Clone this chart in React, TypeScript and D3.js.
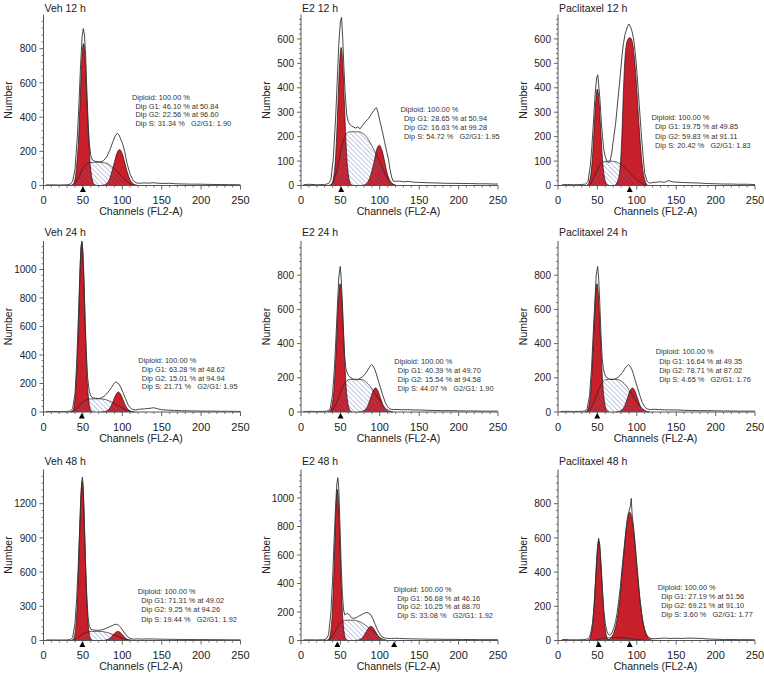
import React from 'react';
import * as d3 from 'd3';

type Pt = [number, number];

// ---------- data ----------
const panelTitles = [
  'Veh 12 h', 'E2 12 h', 'Paclitaxel 12 h',
  'Veh 24 h', 'E2 24 h', 'Paclitaxel 24 h',
  'Veh 48 h', 'E2 48 h', 'Paclitaxel 48 h',
];
const yMax = [1000, 700, 700, 1200, 1000, 1000, 1500, 1200, 1000];
const yStep = [200, 100, 100, 200, 200, 200, 300, 200, 200];
const xTicks = [0, 50, 100, 150, 200, 250];

const g1Pct = ['46.10', '28.65', '19.75', '63.28', '40.39', '16.64', '71.31', '56.68', '27.19'];
const g1At = ['50.84', '50.94', '49.85', '48.62', '49.70', '49.35', '49.02', '46.16', '51.56'];
const g2Pct = ['22.56', '16.63', '59.83', '15.01', '15.54', '78.71', '9.25', '10.25', '69.21'];
const g2At = ['96.60', '99.28', '91.11', '94.94', '94.58', '87.02', '94.26', '88.70', '91.10'];
const sPct = ['31.34', '54.72', '20.42', '21.71', '44.07', '4.65', '19.44', '33.08', '3.60'];
const g2g1 = ['1.90', '1.95', '1.83', '1.95', '1.90', '1.76', '1.92', '1.92', '1.77'];

const peakMarkers: number[][] = [[50], [51], [91], [48.6], [50.2], [49.8], [49.3], [46.2, 118.2], [51.6, 91]];

const g1Series: Pt[][] = [
  [[34,0],[38,9],[42,110],[44.5,270],[46.5,500],[48.5,730],[51,830],[53,730],[55,500],[57.5,270],[59.5,110],[64,9],[68,0]],
  [[35,0],[39,6],[43,76],[45,184],[47,343],[49,498],[51,565],[53,498],[55,343],[57,184],[59,76],[63,6],[66,0]],
  [[36,0],[38,4],[42,53],[44,128],[46,240],[48,348],[50,395],[52,348],[54,240],[56,128],[58,53],[62,4],[65,0]],
  [[34,0],[37.5,13],[41,160],[43,387],[45,722],[46.7,1050],[48.6,1190],[50.5,1050],[52.3,722],[54.2,387],[56.1,160],[60,13],[63,0]],
  [[34,0],[37,8],[41.3,101],[43.4,244],[45.5,455],[47.6,662],[49.7,750],[51.8,662],[53.9,455],[56,244],[58.1,101],[62.3,8],[65,0]],
  [[34,0],[37,8],[41.1,101],[43.2,244],[45.3,455],[47.4,662],[49.5,750],[51.6,662],[53.7,455],[55.8,244],[57.9,101],[62.1,8],[65,0]],
  [[35,0],[38.2,15],[41.8,189],[43.6,455],[45.4,850],[47.2,1235],[49,1400],[50.8,1235],[52.6,850],[54.4,455],[56.2,189],[59.8,15],[63,0]],
  [[32,0],[35.7,12],[39.2,143],[40.9,344],[42.7,643],[44.4,935],[46.2,1060],[47.9,935],[49.7,643],[51.4,344],[53.2,143],[56.7,12],[60,0]],
  [[36,0],[39.6,6],[43.6,79],[45.6,190],[47.6,354],[49.6,514],[51.6,583],[53.6,514],[55.6,354],[57.6,190],[59.6,79],[63.6,6],[67,0]],
];

const g2Series: Pt[][] = [
  [[72,0],[76,2],[83,28],[86,68],[89.5,127],[93,185],[96.5,210],[100,185],[103.5,127],[107,68],[110.5,28],[117.5,2],[121,0]],
  [[76,0],[80,2],[86,22],[89.5,54],[93,100],[96,146],[99.5,165],[102.5,146],[106,100],[109,54],[112.5,22],[119,2],[122,0]],
  [[72,0],[76,20],[79,80],[81,200],[83,380],[85,520],[87,580],[89,600],[91,605],[93,600],[95,575],[97,520],[99,440],[101,340],[103,240],[105,150],[107,80],[110,25],[114,0]],
  [[73,0],[77,2],[83,19],[86,45],[89,85],[92,123],[95,140],[98,123],[101,85],[104,45],[107,19],[113,2],[116,0]],
  [[73,0],[76.6,2],[82.6,19],[85.6,46],[88.6,86],[91.6,124],[94.6,141],[97.6,124],[100.6,86],[103.6,46],[106.6,19],[112.6,2],[116,0]],
  [[73,0],[76.5,2],[82.5,19],[85.5,46],[88.5,86],[91.5,124],[94.5,141],[97.5,124],[100.5,86],[103.5,46],[106.5,19],[112.5,2],[116,0]],
  [[73,0],[76.3,1],[82.3,11],[85.3,26],[88.3,49],[91.3,71],[94.3,80],[97.3,71],[100.3,49],[103.3,26],[106.3,11],[112.3,1],[116,0]],
  [[67,0],[70.7,1],[76.7,14],[79.7,33],[82.7,61],[85.7,88],[88.7,100],[91.7,88],[94.7,61],[97.7,33],[100.7,14],[106.7,1],[110,0]],
  [[61,0],[65.6,8],[74.1,101],[78.4,244],[82.6,455],[86.9,662],[91.1,750],[95.4,662],[99.6,455],[103.9,244],[108.1,101],[116.6,8],[121,0]],
];

const sSeries: Pt[][] = [
  [[36,0],[40,12],[45,50],[50,100],[55,127],[60,135],[70,136],[80,130],[86,112],[92,88],[97,62],[102,38],[108,15],[114,4],[118,0]],
  [[37,0],[41,15],[45,55],[49,115],[53,175],[57,210],[62,220],[72,220],[80,210],[86,185],[92,150],[97,118],[102,80],[107,45],[112,18],[117,5],[121,0]],
  [[38,0],[42,10],[46,35],[50,65],[54,88],[58,97],[66,100],[74,96],[80,86],[86,70],[92,50],[98,30],[104,14],[110,4],[114,0]],
  [[35,0],[39,8],[43,28],[47,55],[51,75],[55,87],[60,92],[70,93],[78,88],[84,76],[90,58],[95,42],[100,27],[105,14],[110,5],[115,0]],
  [[36,0],[40,12],[44,40],[48,85],[52,135],[56,172],[60,188],[68,192],[76,190],[82,178],[88,150],[93,115],[98,80],[103,45],[108,20],[113,5],[117,0]],
  [[36,0],[40,12],[44,40],[48,85],[52,135],[56,172],[60,188],[68,192],[75,190],[81,178],[87,150],[92,115],[97,80],[102,45],[107,20],[112,5],[116,0]],
  [[36,0],[40,8],[44,26],[48,48],[52,65],[56,75],[60,80],[70,80],[77,76],[83,66],[89,50],[94,36],[99,22],[104,11],[109,4],[113,0]],
  [[33,0],[37,12],[41,40],[45,80],[49,115],[53,135],[57,142],[66,143],[72,137],[78,122],[84,98],[90,70],[95,45],[100,22],[105,8],[109,0]],
  [[44,0],[50,5],[56,11],[62,15],[70,17],[80,16],[88,13],[95,9],[102,5],[108,2],[112,0]],
];

const histSeries: Pt[][] = [
  [[3,3],[10,4],[20,3],[30,4],[34,8],[37,25],[40,95],[43,290],[45,480],[47,700],[49,870],[50.5,918],[52,880],[53.5,760],[55,560],[56.5,380],[58,250],[60,175],[62,150],[65,142],[68,140],[72,138],[76,145],[80,165],[84,205],[88,255],[91,290],[93.5,306],[96,295],[98,270],[100,250],[103,200],[106,130],[110,65],[114,28],[118,15],[122,13],[127,15],[133,14],[140,16],[146,13],[152,12],[160,13],[168,10],[176,9],[185,8],[195,8],[205,7],[215,6],[225,6],[235,5],[245,5],[250,4]],
  [[3,3],[10,5],[20,3],[30,4],[35,8],[38,25],[41,110],[44,280],[46,430],[48,580],[50,672],[51.5,688],[53,600],[54.5,480],[56,380],[58,290],[60,262],[62,250],[64,245],[66,240],[69,235],[72,240],[75,232],[78,245],[82,262],[85.5,273],[89,290],[92,305],[94.5,316],[96,318],[98,295],[100,265],[103,225],[106,180],[109,135],[111,108],[113,65],[115,35],[117,18],[120,17],[125,18],[130,15],[136,17],[142,14],[148,13],[155,12],[165,11],[175,10],[185,9],[195,9],[205,8],[215,8],[225,7],[235,7],[245,6],[250,6]],
  [[5,3],[12,4],[20,3],[30,4],[35,6],[38,15],[41,80],[43,160],[45,260],[47,370],[49,440],[50.5,453],[52,400],[53.5,340],[55,260],[56.5,200],[58,150],[60,118],[62,100],[64,92],[66,100],[68,130],[70,180],[73,250],[76,350],[79,450],[81,523],[83,580],[85,617],[88,650],[90,661],[92,650],[94,630],[96,600],[98,545],[100,470],[102,380],[104,290],[106,200],[108,120],[110,50],[113,18],[116,10],[120,12],[125,14],[130,15],[135,13],[140,20],[145,15],[150,14],[160,12],[170,11],[180,10],[190,8],[200,7],[210,6],[220,6],[230,5],[240,5],[250,4]],
  [[3,3],[10,4],[20,3],[30,4],[34,6],[37,25],[40,130],[42,330],[44,620],[46,950],[47.5,1150],[48.8,1205],[50,1120],[51.5,900],[53,620],[54.5,400],[56,240],[58,150],[60,112],[63,98],[66,96],[70,94],[74,100],[78,115],[82,140],[86,170],[89,195],[91.5,212],[93.5,205],[95.5,198],[98,175],[101,135],[104,95],[107,55],[110,30],[113,18],[117,14],[122,20],[128,22],[134,25],[140,30],[145,22],[150,16],[158,13],[166,11],[175,9],[185,8],[195,7],[205,6],[215,6],[225,5],[235,5],[245,4],[250,4]],
  [[3,3],[10,4],[20,3],[30,4],[34,6],[37,20],[40,100],[42.6,270],[44.5,450],[46,600],[48,790],[49.8,851],[51,780],[52.5,640],[54,460],[55.5,320],[57,255],[58.5,230],[60,215],[63,200],[66,192],[69,188],[72,190],[75,197],[78,205],[81,220],[84,240],[87,262],[89.5,278],[91.5,270],[93.5,250],[95.5,225],[98,185],[101,140],[104,95],[107,55],[110,30],[113,17],[117,14],[122,15],[128,13],[135,14],[142,12],[150,12],[160,10],[170,9],[180,8],[190,8],[200,7],[210,6],[220,6],[230,5],[240,5],[250,5]],
  [[3,3],[10,4],[20,3],[30,4],[34,6],[37,20],[40,95],[42.6,260],[44.5,440],[46.5,620],[48.5,800],[50.3,851],[51.5,790],[53,640],[54.5,460],[56,320],[57.5,255],[59,225],[61,205],[64,195],[67,190],[70,190],[73,195],[76,203],[79,215],[82,232],[85,255],[88,272],[89.5,277],[91.5,268],[93.5,250],[95.5,225],[98,185],[101,140],[104,95],[107,55],[110,30],[113,18],[117,14],[122,16],[128,14],[135,13],[142,12],[150,12],[160,10],[170,9],[180,8],[190,8],[200,7],[210,6],[220,6],[230,5],[240,5],[250,5]],
  [[3,4],[10,5],[20,4],[30,5],[34,8],[37,25],[40,150],[42,360],[44,640],[46,1000],[47.8,1300],[49.3,1433],[50.5,1350],[52,1000],[53.5,640],[55,380],[56.5,210],[58,130],[60,100],[63,92],[67,90],[71,90],[75,95],[79,105],[83,118],[87,130],[90,140],[92.5,142],[95,135],[98,115],[101,85],[104,55],[107,32],[110,18],[114,12],[120,14],[126,12],[132,14],[140,13],[148,12],[156,11],[165,10],[175,9],[185,9],[195,8],[205,8],[215,7],[225,7],[235,6],[245,6],[250,6]],
  [[3,4],[10,5],[20,4],[28,5],[32,10],[35,40],[38,200],[40,420],[42,700],[44,950],[45.5,1100],[46.8,1142],[48,1060],[49.5,800],[51,520],[52.5,330],[54,215],[55.5,180],[57,185],[59,190],[61,182],[64,160],[67,155],[70,160],[73,170],[76,178],[79,188],[82,195],[85,195],[88,185],[91,155],[94,115],[97,75],[100,45],[103,25],[106,18],[110,15],[115,14],[120,16],[125,14],[130,13],[138,12],[146,11],[155,10],[165,9],[175,9],[185,8],[195,8],[205,7],[215,7],[225,6],[235,6],[245,6],[250,5]],
  [[5,5],[10,6],[15,4],[25,4],[32,5],[37,8],[40,20],[42,55],[44,110],[46,210],[48,370],[50,520],[51.5,599],[53,560],[54.5,450],[56,330],[58,185],[60,100],[62,55],[64,35],[65.5,30],[67,35],[69,50],[71,75],[73,110],[75,160],[77,230],[79,310],[81,410],[83,500],[85,590],[87,680],[89,740],[90.5,762],[92,790],[93,831],[94,740],[96,660],[98,560],[100,450],[102,340],[104,240],[106,165],[108,105],[110,60],[112,35],[115,18],[118,12],[122,10],[128,12],[135,14],[142,12],[150,13],[158,12],[166,14],[174,13],[182,12],[190,9],[200,7],[210,6],[220,6],[230,5],[240,5],[250,4]],
];

// ---------- layout ----------
const colX = [43.5, 301, 558];
const rowBottom = [185.5, 412, 640.5];
const titleY = [11.5, 236, 464.5];
const plotW = 197;
const plotH = 171;
// [dx from axis, baseline dy from plot top, line spacing]
const notePos = [
  [88.5, 85.5, 8.5], [99.5, 97.5, 9.1], [93.5, 105.5, 9.4],
  [94.8, 122, 8.8], [93.3, 122.7, 9], [97.7, 113.4, 9.1],
  [94.2, 124, 9.4], [92.7, 122.5, 8.6], [99.7, 120, 9.1],
];

const RED = '#c8202a';
const HATCH = '#5a6ab2';
const FONT = '"Liberation Sans", Arial, Helvetica, sans-serif';

function Panel({ i }: { i: number }) {
  const col = i % 3;
  const row = Math.floor(i / 3);
  const x0 = colX[col];
  const y0 = rowBottom[row];
  const yTop = y0 - plotH;
  const x = d3.scaleLinear().domain([0, 250]).range([x0, x0 + plotW]);
  const y = d3.scaleLinear().domain([0, yMax[i]]).range([y0, yTop]);

  const area = d3.area<Pt>().x(d => x(d[0])).y0(y0).y1(d => y(d[1])).curve(d3.curveMonotoneX);
  const outline = d3.line<Pt>().x(d => x(d[0])).y(d => y(d[1])).curve(d3.curveMonotoneX);
  const histLine = d3.line<Pt>().x(d => x(d[0])).y(d => y(Math.min(d[1], yMax[i]))).curve(d3.curveLinear);

  const step = yStep[i];
  const majors = d3.range(0, yMax[i], step);
  const minors = d3.range(0, yMax[i] + 1e-6, step / 5).filter(v => Math.abs(v / step - Math.round(v / step)) > 1e-6);
  const xMinors = d3.range(0, 251, 10).filter(v => v % 50 !== 0);

  const [ndx, ndy, nsp] = notePos[i];
  const nx = x0 + ndx;
  const ny = yTop + ndy;
  const noteLines = [
    `Dip G1: ${g1Pct[i]} % at ${g1At[i]}`,
    `Dip G2: ${g2Pct[i]} % at ${g2At[i]}`,
    `Dip S: ${sPct[i]} %   G2/G1: ${g2g1[i]}`,
  ];

  return (
    <g>
      <text x={x0 + 1} y={titleY[row]} fontSize={10.5} fill="#222" fontFamily={FONT}>{panelTitles[i]}</text>

      {/* components */}
      <path d={area(g1Series[i]) || ''} fill={RED} />
      <path d={area(g2Series[i]) || ''} fill={RED} />
      <path d={area(sSeries[i]) || ''} fill="url(#hatch)" />
      <path d={outline(g1Series[i]) || ''} fill="none" stroke="#2a0a0a" strokeWidth={0.7} />
      <path d={outline(g2Series[i]) || ''} fill="none" stroke="#2a0a0a" strokeWidth={0.7} />
      <path d={outline(sSeries[i]) || ''} fill="none" stroke="#222" strokeWidth={0.7} />
      <path d={histLine(histSeries[i]) || ''} fill="none" stroke="#333" strokeWidth={0.9} />

      {/* axes */}
      <line x1={x0} x2={x0} y1={yTop} y2={y0} stroke="#555" strokeWidth={1} />
      <line x1={x0} x2={x0 + plotW} y1={y0} y2={y0} stroke="#555" strokeWidth={1} />
      {minors.map(v => (
        <line key={'ym' + v} x1={x0 - 2} x2={x0} y1={y(v)} y2={y(v)} stroke="#555" strokeWidth={0.8} />
      ))}
      {majors.map(v => (
        <g key={'yM' + v}>
          <line x1={x0 - 4} x2={x0} y1={y(v)} y2={y(v)} stroke="#555" strokeWidth={0.9} />
          <text x={x0 - 7} y={y(v) + 3.6} textAnchor="end" fontSize={10} fill="#222" fontFamily={FONT}>{v}</text>
        </g>
      ))}
      {xMinors.map(v => (
        <line key={'xm' + v} x1={x(v)} x2={x(v)} y1={y0} y2={y0 + 2} stroke="#555" strokeWidth={0.8} />
      ))}
      {xTicks.map(v => (
        <g key={'xM' + v}>
          <line x1={x(v)} x2={x(v)} y1={y0} y2={y0 + 4} stroke="#555" strokeWidth={0.9} />
          <text x={x(v)} y={y0 + 18.5} textAnchor="middle" fontSize={11} fill="#222" fontFamily={FONT}>{v}</text>
        </g>
      ))}
      {peakMarkers[i].map((m, k) => (
        <path key={'pk' + k} d={`M${x(m)},${y0 + 1} L${x(m) - 3},${y0 + 6.5} L${x(m) + 3},${y0 + 6.5} Z`} fill="#000" />
      ))}
      <text x={x0 + plotW / 2 - 1} y={y0 + 29.5} textAnchor="middle" fontSize={10.6} fill="#222" fontFamily={FONT}>Channels (FL2-A)</text>
      <text transform={`translate(${x0 - 31.5},${(y0 + yTop) / 2}) rotate(-90)`} textAnchor="middle" fontSize={10.5} fill="#222" fontFamily={FONT}>Number</text>

      {/* annotation */}
      <text x={nx} y={ny} fontSize={7.4} fill="#333" fontFamily={FONT}>Diploid: 100.00 %</text>
      {noteLines.map((t, k) => (
        <text key={'n' + k} x={nx + 3.5} y={ny + nsp * (k + 1)} fontSize={7.4} fill="#333" fontFamily={FONT} style={{ whiteSpace: 'pre' }}>{t}</text>
      ))}
    </g>
  );
}

export default function App() {
  return (
    <svg width={764} height={674} style={{ position: 'absolute', left: 0, top: 0, background: '#fff' }}>
      <defs>
        <pattern id="hatch" patternUnits="userSpaceOnUse" width={3.4} height={3.4} patternTransform="rotate(-45)">
          <line x1={0} y1={0} x2={0} y2={3.4} stroke={HATCH} strokeWidth={0.75} />
        </pattern>
      </defs>
      {panelTitles.map((_, i) => <Panel key={i} i={i} />)}
    </svg>
  );
}
